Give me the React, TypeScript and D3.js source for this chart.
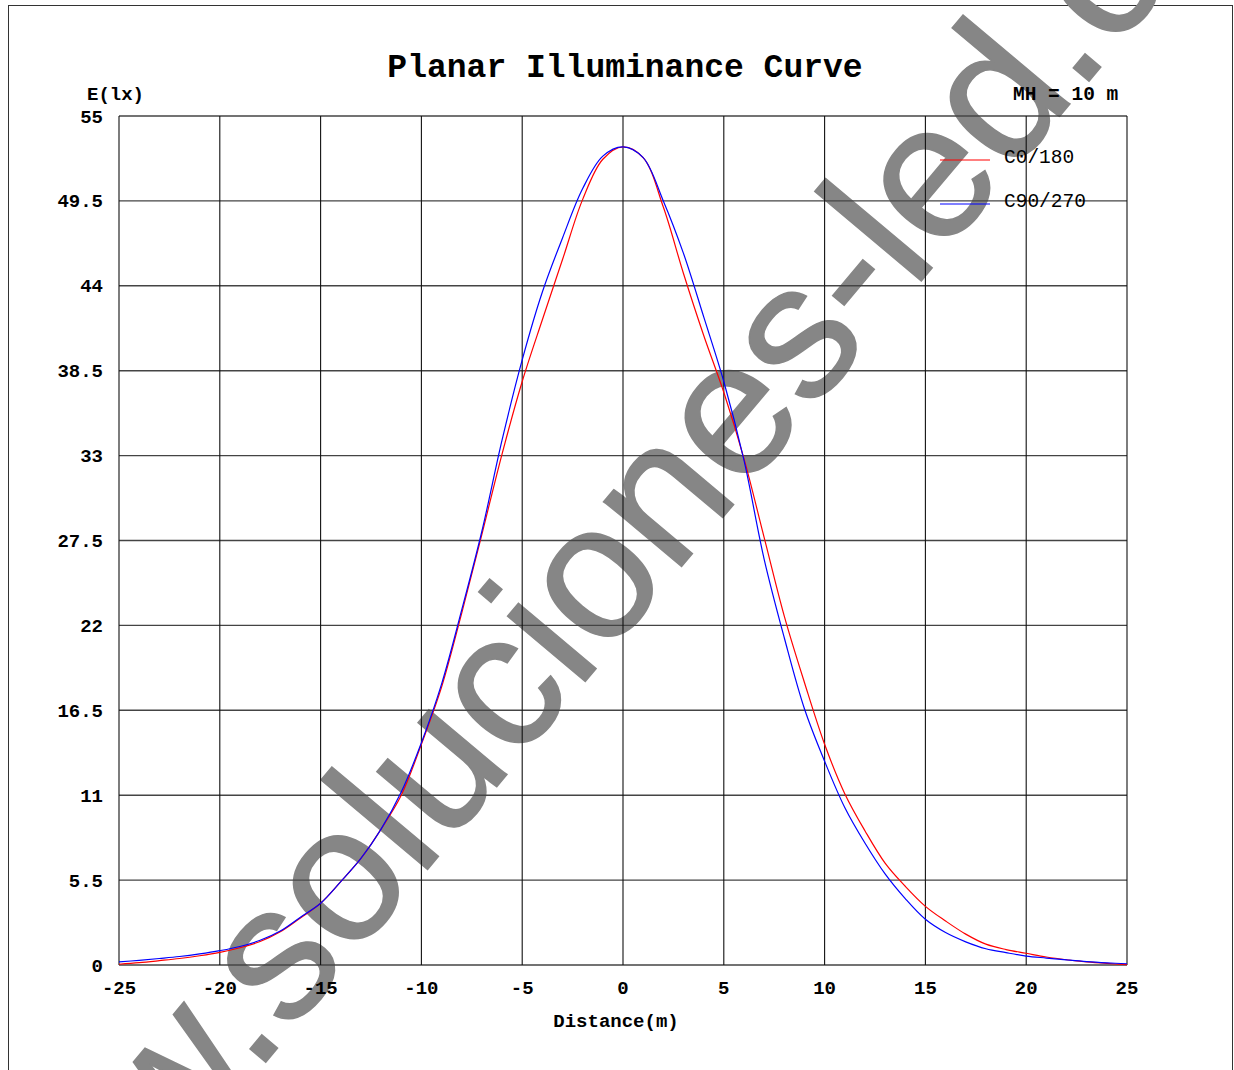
import React from 'react';
import * as d3 from 'd3';

const distances = [
  -25, -24, -23, -22, -21, -20, -19, -18, -17, -16, -15, -14, -13, -12, -11, -10, -9, -8, -7, -6, -5, -4, -3, -2, -1,
  0, 1, 2, 3, 4, 5, 6, 7, 8, 9, 10, 11, 12, 13, 14, 15, 16, 17, 18, 19, 20, 21, 22, 23, 24, 25,
];

const c0_180 = [
  0.05, 0.15, 0.28, 0.42, 0.6, 0.82, 1.12, 1.52, 2.15, 3.05, 4.0, 5.4, 6.9, 8.8, 11.0, 14.3, 18.0, 22.8, 27.9, 33.1, 37.8, 41.8, 45.7, 49.6, 52.2,
  53.0, 52.3, 49.1, 44.8, 40.8, 37.1, 32.8, 27.7, 22.6, 18.3, 14.3, 11.1, 8.7, 6.6, 5.1, 3.8, 2.85, 2.0, 1.35, 1.0, 0.76, 0.52, 0.34, 0.2, 0.1, 0.02,
];

const c90_270 = [
  0.2, 0.3, 0.42, 0.55, 0.72, 0.93, 1.2, 1.6, 2.2, 3.1, 4.0, 5.4, 6.9, 8.8, 11.2, 14.4, 18.2, 23.0, 28.1, 34.0, 39.2, 43.6, 47.1, 50.3, 52.4,
  53.0, 52.3, 49.5, 46.1, 42.0, 37.8, 32.7, 26.3, 21.2, 16.6, 13.2, 10.2, 7.9, 5.9, 4.3, 2.96, 2.1, 1.5, 1.05, 0.8, 0.58, 0.45, 0.33, 0.22, 0.14, 0.08,
];

const xTicks = [-25, -20, -15, -10, -5, 0, 5, 10, 15, 20, 25];
const yTicks = [0, 5.5, 11, 16.5, 22, 27.5, 33, 38.5, 44, 49.5, 55];
const seriesNames = ['C0/180', 'C90/270'];
const seriesColors = ['#ff0000', '#0000ff'];

const MONO = "'Liberation Mono', 'Courier New', monospace";

export default function App() {
  const W = 1234;
  const H = 1070;
  const x = d3.scaleLinear().domain([-25, 25]).range([119, 1127]);
  const y = d3.scaleLinear().domain([0, 55]).range([965, 116]);

  const mkLine = (vals: number[]) =>
    d3
      .line<number>()
      .x((_, i) => x(distances[i]))
      .y((d) => y(d))
      .curve(d3.curveCatmullRom.alpha(0.5))(vals) || '';

  const series = [c0_180, c90_270];

  return (
    <svg
      width={W}
      height={H}
      style={{ position: 'absolute', left: 0, top: 0, background: '#fff' }}
    >
      <rect x={0} y={0} width={W} height={H} fill="#fff" />
      <rect x={8.5} y={5.5} width={1224} height={1080} fill="none" stroke="#333" strokeWidth={1} />

      {/* watermark */}
      <text
        transform="translate(-6,1386) rotate(-50)"
        fontFamily="'Liberation Sans', Arial, sans-serif"
        fontSize={192}
        fill="#868686"
        stroke="#868686"
        strokeWidth={1.5}
      >
        www.soluciones-led.com
      </text>

      {/* grid */}
      {yTicks.map((t) => (
        <line key={'h' + t} x1={x(-25)} x2={x(25)} y1={y(t)} y2={y(t)} stroke="#444" strokeWidth={1.4} />
      ))}
      {xTicks.map((t) => (
        <line key={'v' + t} x1={x(t)} x2={x(t)} y1={y(0)} y2={y(55)} stroke="#111" strokeWidth={1.1} />
      ))}

      {/* curves */}
      {series.map((s, i) => (
        <path key={seriesNames[i]} d={mkLine(s)} fill="none" stroke={seriesColors[i]} strokeWidth={1.2} />
      ))}

      {/* title */}
      <text x={625} y={77} textAnchor="middle" fontFamily={MONO} fontWeight="bold" fontSize={33} fill="#000">
        Planar Illuminance Curve
      </text>
      <text x={87} y={100} fontFamily={MONO} fontWeight="bold" fontSize={19} fill="#000">
        E(lx)
      </text>
      <text x={1013} y={100} fontFamily={MONO} fontWeight="bold" fontSize={19.5} fill="#000">
        MH = 10 m
      </text>

      {/* y tick labels */}
      {yTicks.map((t) => (
        <text
          key={'yl' + t}
          x={103}
          y={y(t) + 6.5}
          textAnchor="end"
          fontFamily={MONO}
          fontWeight="bold"
          fontSize={19}
          fill="#000"
        >
          {String(t)}
        </text>
      ))}

      {/* x tick labels */}
      {xTicks.map((t) => (
        <text
          key={'xl' + t}
          x={x(t)}
          y={994}
          textAnchor="middle"
          fontFamily={MONO}
          fontWeight="bold"
          fontSize={19}
          fill="#000"
        >
          {String(t)}
        </text>
      ))}
      <text x={616} y={1027} textAnchor="middle" fontFamily={MONO} fontWeight="bold" fontSize={19} fill="#000">
        Distance(m)
      </text>

      {/* legend */}
      {seriesNames.map((n, i) => (
        <g key={'lg' + n}>
          <line x1={940} x2={990} y1={160 + i * 44} y2={160 + i * 44} stroke={seriesColors[i]} strokeWidth={1.2} />
          <text x={1004} y={163 + i * 44} fontFamily={MONO} fontSize={19.5} fill="#000">
            {n}
          </text>
        </g>
      ))}
    </svg>
  );
}
